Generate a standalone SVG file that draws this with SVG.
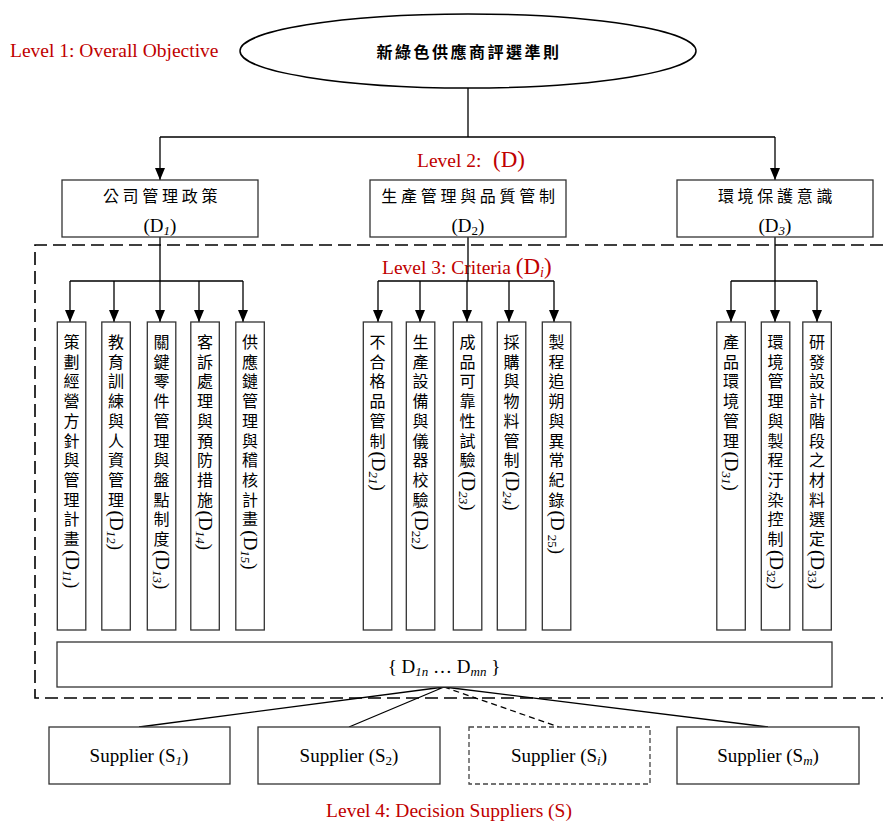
<svg xmlns="http://www.w3.org/2000/svg" width="883" height="827" viewBox="0 0 883 827">
<defs>
<marker id="arr" markerUnits="userSpaceOnUse" viewBox="0 0 12 10" refX="12" refY="5" markerWidth="12" markerHeight="10" orient="auto">
<path d="M0,0 L12,5 L0,10 z" fill="#000"/>
</marker>
<style>
.box{fill:#fff;stroke:#333;stroke-width:1.3}
.ln{fill:none;stroke:#000;stroke-width:1.3}
.red{font-family:"Liberation Serif","Times New Roman",serif;font-size:19.5px;fill:#c00000}
.lat{font-family:"Liberation Serif","Times New Roman",serif;font-size:19px;fill:#000}
.cjk{font-family:"Noto Sans CJK TC","Noto Sans CJK SC",sans-serif;font-size:16px;fill:#000;letter-spacing:3.7px}
.v{font-family:"Noto Sans CJK TC","Noto Sans CJK SC",sans-serif;font-size:16px;fill:#000;writing-mode:vertical-rl;letter-spacing:3.7px}
.rl{font-family:"Liberation Serif","Times New Roman",serif;font-size:19px;fill:#000}
.sub{font-size:13px}
.it{font-style:italic}
</style>
</defs>

<text class="red" x="10" y="57">Level 1: Overall Objective</text>
<text class="red" x="417" y="167">Level 2:<tspan x="493" font-size="23">(D)</tspan></text>
<text class="red" x="382" y="274">Level 3: Criteria <tspan font-size="23">(D</tspan><tspan class="it" font-size="14" dy="3">i</tspan><tspan font-size="23" dy="-3">)</tspan></text>
<text class="red" x="449" y="817" text-anchor="middle">Level 4: Decision Suppliers (S)</text>

<g id="connectors">
<path class="ln" d="M468,88 V137 M160,137 H775"/>
<line class="ln" x1="160" y1="137" x2="160" y2="180" marker-end="url(#arr)"/>
<line class="ln" x1="775" y1="137" x2="775" y2="180" marker-end="url(#arr)"/>
<path class="ln" d="M160,237 V281 M70,281 H243 M468,237 V281 M378,281 H554 M775,237 V281 M731,281 H817"/>
<line class="ln" x1="70" y1="281" x2="70" y2="322" marker-end="url(#arr)"/>
<line class="ln" x1="114" y1="281" x2="114" y2="322" marker-end="url(#arr)"/>
<line class="ln" x1="160" y1="281" x2="160" y2="322" marker-end="url(#arr)"/>
<line class="ln" x1="199" y1="281" x2="199" y2="322" marker-end="url(#arr)"/>
<line class="ln" x1="243" y1="281" x2="243" y2="322" marker-end="url(#arr)"/>
<line class="ln" x1="378" y1="281" x2="378" y2="322" marker-end="url(#arr)"/>
<line class="ln" x1="420" y1="281" x2="420" y2="322" marker-end="url(#arr)"/>
<line class="ln" x1="467" y1="281" x2="467" y2="322" marker-end="url(#arr)"/>
<line class="ln" x1="509" y1="281" x2="509" y2="322" marker-end="url(#arr)"/>
<line class="ln" x1="554" y1="281" x2="554" y2="322" marker-end="url(#arr)"/>
<line class="ln" x1="731" y1="281" x2="731" y2="322" marker-end="url(#arr)"/>
<line class="ln" x1="775" y1="281" x2="775" y2="322" marker-end="url(#arr)"/>
<line class="ln" x1="817" y1="281" x2="817" y2="322" marker-end="url(#arr)"/>
<path class="ln" d="M444,687 L139,727 M444,687 L349,727 M444,687 L768,727"/>
<path class="ln" d="M444,687 L559,727" stroke-dasharray="6 4"/>
</g>

<path d="M883,245 H35 V698 H883" fill="none" stroke="#000" stroke-width="1.6" stroke-dasharray="13 6"/>

<g id="goal">
<ellipse cx="468" cy="51" rx="228" ry="37" fill="#fff" stroke="#000" stroke-width="1.5"/>
<text class="cjk" x="469" y="57.5" text-anchor="middle" font-size="17" font-weight="bold" style="letter-spacing:2.5px">新綠色供應商評選準則</text>
</g>

<g id="D1">
<rect class="box" x="62" y="180" width="196" height="57"/>
<text class="cjk" x="162" y="201.5" text-anchor="middle">公司管理政策</text>
<text class="lat" x="160" y="232" text-anchor="middle">(D<tspan class="sub it" dy="3">1</tspan><tspan dy="-3">)</tspan></text>
</g>
<g id="D2">
<rect class="box" x="370" y="180" width="196" height="57"/>
<text class="cjk" x="470" y="201.5" text-anchor="middle">生產管理與品質管制</text>
<text class="lat" x="468" y="232" text-anchor="middle">(D<tspan class="sub" dy="3">2</tspan><tspan dy="-3">)</tspan></text>
</g>
<g id="D3">
<rect class="box" x="677" y="180" width="196" height="57"/>
<text class="cjk" x="777" y="201.5" text-anchor="middle">環境保護意識</text>
<text class="lat" x="775" y="232" text-anchor="middle">(D<tspan class="sub it" dy="3">3</tspan><tspan dy="-3">)</tspan></text>
</g>

<g id="D11">
<rect class="box" x="57.3" y="322" width="28.5" height="308"/>
<text class="v" x="71.5" y="334">策劃經營方針與管理計畫</text>
<text class="rl" transform="translate(65.5,550) rotate(90)">(D<tspan class="sub it" dy="3">11</tspan><tspan dy="-3">)</tspan></text>
</g>
<g id="D12">
<rect class="box" x="101.8" y="322" width="28.5" height="308"/>
<text class="v" x="116" y="334">教育訓練與人資管理</text>
<text class="rl" transform="translate(110,510.6) rotate(90)">(D<tspan class="sub it" dy="3">12</tspan><tspan dy="-3">)</tspan></text>
</g>
<g id="D13">
<rect class="box" x="147.3" y="322" width="28.5" height="308"/>
<text class="v" x="161.5" y="334">關鍵零件管理與盤點制度</text>
<text class="rl" transform="translate(155.5,550) rotate(90)">(D<tspan class="sub it" dy="3">13</tspan><tspan dy="-3">)</tspan></text>
</g>
<g id="D14">
<rect class="box" x="190.8" y="322" width="28.5" height="308"/>
<text class="v" x="205" y="334">客訴處理與預防措施</text>
<text class="rl" transform="translate(199,510.6) rotate(90)">(D<tspan class="sub it" dy="3">14</tspan><tspan dy="-3">)</tspan></text>
</g>
<g id="D15">
<rect class="box" x="235.8" y="322" width="28.5" height="308"/>
<text class="v" x="250" y="334">供應鏈管理與稽核計畫</text>
<text class="rl" transform="translate(244,530.3) rotate(90)">(D<tspan class="sub it" dy="3">15</tspan><tspan dy="-3">)</tspan></text>
</g>

<g id="D21">
<rect class="box" x="363.3" y="322" width="28.5" height="308"/>
<text class="v" x="377.5" y="334">不合格品管制</text>
<text class="rl" transform="translate(371.5,451.5) rotate(90)">(D<tspan class="sub it" dy="3">21</tspan><tspan dy="-3">)</tspan></text>
</g>
<g id="D22">
<rect class="box" x="406.3" y="322" width="28.5" height="308"/>
<text class="v" x="420.5" y="334">生產設備與儀器校驗</text>
<text class="rl" transform="translate(414.5,510.6) rotate(90)">(D<tspan class="sub" dy="3">22</tspan><tspan dy="-3">)</tspan></text>
</g>
<g id="D23">
<rect class="box" x="453.3" y="322" width="28.5" height="308"/>
<text class="v" x="467.5" y="334">成品可靠性試驗</text>
<text class="rl" transform="translate(461.5,471.2) rotate(90)">(D<tspan class="sub it" dy="3">23</tspan><tspan dy="-3">)</tspan></text>
</g>
<g id="D24">
<rect class="box" x="497.3" y="322" width="28.5" height="308"/>
<text class="v" x="511.5" y="334">採購與物料管制</text>
<text class="rl" transform="translate(505.5,471.2) rotate(90)">(D<tspan class="sub it" dy="3">24</tspan><tspan dy="-3">)</tspan></text>
</g>
<g id="D25">
<rect class="box" x="542.3" y="322" width="28.5" height="308"/>
<text class="v" x="556.5" y="334">製程追朔與異常紀錄</text>
<text class="rl" transform="translate(550.5,510.6) rotate(90)">(D<tspan class="sub" dx="4" dy="3">25</tspan><tspan dy="-3">)</tspan></text>
</g>

<g id="D31">
<rect class="box" x="716.8" y="322" width="28.5" height="308"/>
<text class="v" x="731" y="334">產品環境管理</text>
<text class="rl" transform="translate(725,451.5) rotate(90)">(D<tspan class="sub it" dy="3">31</tspan><tspan dy="-3">)</tspan></text>
</g>
<g id="D32">
<rect class="box" x="761.3" y="322" width="28.5" height="308"/>
<text class="v" x="775.5" y="334">環境管理與製程汙染控制</text>
<text class="rl" transform="translate(769.5,550) rotate(90)">(D<tspan class="sub" dy="3">32</tspan><tspan dy="-3">)</tspan></text>
</g>
<g id="D33">
<rect class="box" x="802.8" y="322" width="28.5" height="308"/>
<text class="v" x="817" y="334">研發設計階段之材料選定</text>
<text class="rl" transform="translate(811,550) rotate(90)">(D<tspan class="sub" dy="3">33</tspan><tspan dy="-3">)</tspan></text>
</g>

<g id="Dall">
<rect class="box" x="57" y="642" width="775" height="45"/>
<text class="lat" x="444" y="673" text-anchor="middle">{ D<tspan class="sub it" dy="3">1n</tspan><tspan dy="-3"> … D</tspan><tspan class="sub it" dy="3">mn</tspan><tspan dy="-3"> }</tspan></text>
</g>

<g id="S1">
<rect class="box" x="49" y="727" width="181" height="57"/>
<text class="lat" x="139" y="762" text-anchor="middle">Supplier (S<tspan class="sub it" dy="3">1</tspan><tspan dy="-3">)</tspan></text>
</g>
<g id="S2">
<rect class="box" x="258" y="727" width="182" height="57"/>
<text class="lat" x="349" y="762" text-anchor="middle">Supplier (S<tspan class="sub" dy="3">2</tspan><tspan dy="-3">)</tspan></text>
</g>
<g id="Si">
<rect x="469" y="727" width="181" height="57" fill="#fff" stroke="#444" stroke-width="1.3" stroke-dasharray="5 3"/>
<text class="lat" x="559" y="762" text-anchor="middle">Supplier (S<tspan class="sub it" dy="3">i</tspan><tspan dy="-3">)</tspan></text>
</g>
<g id="Sm">
<rect class="box" x="677" y="727" width="182" height="57"/>
<text class="lat" x="768" y="762" text-anchor="middle">Supplier (S<tspan class="sub it" dy="3">m</tspan><tspan dy="-3">)</tspan></text>
</g>
</svg>
